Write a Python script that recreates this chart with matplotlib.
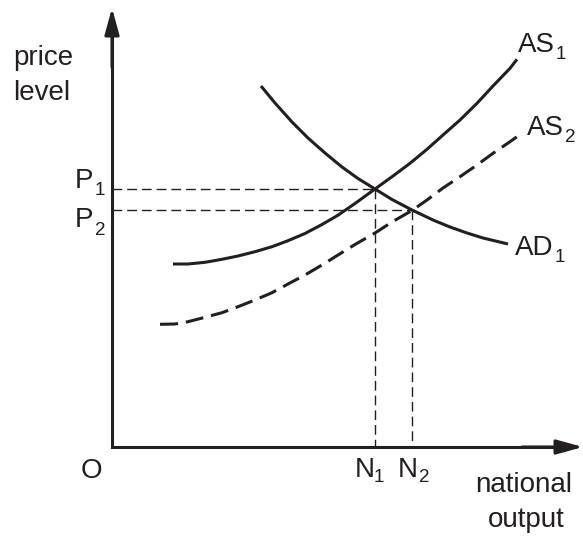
import matplotlib
matplotlib.use('Agg')
import matplotlib.pyplot as plt

plt.rcParams['font.family'] = ['Liberation Sans', 'DejaVu Sans']

INK = '#231f20'

# curves (x = national output, y = price level)
as1_x = [61, 76, 93, 110, 126, 143, 160, 176, 193, 210, 226, 243, 263,
         281, 298, 315, 331, 348, 365, 381, 398, 405]
as1_y = [183, 183, 184.7, 187.7, 191, 195.3, 200.3, 206.3, 213.5, 222.5, 231.8,
         243.5, 258, 271, 283.7, 297.7, 312, 327, 343.7, 361, 378.7, 387.7]

as2_x = [48, 63, 76, 93, 110, 126, 143, 160, 176, 193, 210, 226, 243, 263,
         280, 300, 315, 331, 348, 365, 381, 398, 405]
as2_y = [122.7, 123, 125.3, 129.7, 134.3, 140.3, 147, 154.3, 163, 172, 182,
         192, 202.5, 214, 225, 236.5, 247, 259, 270.3, 282, 293.7, 305.3, 310.3]

ad1_x = [149, 163, 180, 196, 213, 230, 246, 263, 280, 300, 321, 338, 355,
         371, 396]
ad1_y = [361, 344, 325, 309, 294, 280, 268.5, 258, 247.5, 237, 227, 220, 214,
         209, 203]

# equilibria
n_vals = [263, 300]
p_vals = [258, 237]

fig = plt.figure(figsize=(5.83, 5.36), dpi=100)
ax = fig.add_axes([0, 0, 1, 1])
ax.set_xlim(-112, 471)
ax.set_ylim(-89, 447)
ax.axis('off')

# axes with arrow heads
ax.plot([0, 0, 455], [425, 0, 0], color=INK, lw=2.2,
        solid_joinstyle='miter', solid_capstyle='butt')
head = dict(arrowstyle='-|>,head_length=0.8,head_width=0.22', color=INK,
            lw=2.2, mutation_scale=20, shrinkA=0, shrinkB=0)
ax.annotate('', xy=(0, 439), xytext=(0, 380), arrowprops=head)
ax.annotate('', xy=(471, 0), xytext=(410, 0), arrowprops=head)

# guide lines
guide = dict(color=INK, lw=1.0, ls=(0, (7, 3.6)))
for n, p in zip(n_vals, p_vals):
    ax.plot([0, n], [p, p], **guide)
    ax.plot([n, n], [p, 0], **guide)

# curves
ax.plot(as1_x, as1_y, color=INK, lw=2.2, solid_capstyle='butt')
ax.plot(ad1_x, ad1_y, color=INK, lw=2.2, solid_capstyle='butt')
ax.plot(as2_x, as2_y, color=INK, lw=2.2, ls=(0, (5.9, 2.6)),
        dash_capstyle='butt')

txt = dict(color=INK, fontsize=20, va='baseline', ha='left')
sub = dict(color=INK, fontsize=13.5, va='baseline', ha='left')

ax.text(-99, 382, 'price', **txt)
ax.text(-99, 347, 'level', **txt)
ax.text(-21, -31, 'O', color=INK, fontsize=20, va='baseline', ha='center')
ax.text(412, -45, 'national', color=INK, fontsize=20, va='baseline', ha='center')
ax.text(414, -80, 'output', color=INK, fontsize=20, va='baseline', ha='center')

labels = [('P', '1', -37, 259, -17, 252),
          ('P', '2', -37, 220, -16.5, 212),
          ('N', '1', 243, -30, 262, -35),
          ('N', '2', 286, -30, 306.5, -35),
          ('AS', '1', 406, 395, 444, 388),
          ('AS', '2', 415, 312, 452.5, 305),
          ('AD', '1', 403, 192, 443, 185)]
for main, idx, mx, my, sx, sy in labels:
    ax.text(mx, my, main, **txt)
    ax.text(sx, sy, idx, **sub)

fig.savefig('out.png', dpi=100)
